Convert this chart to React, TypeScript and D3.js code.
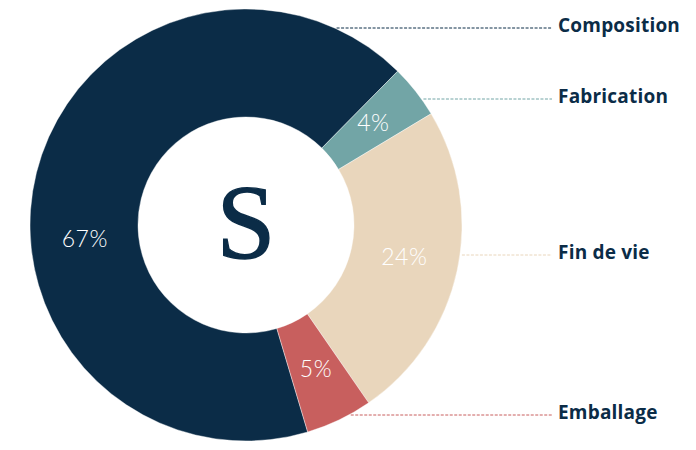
import { useEffect, useRef } from 'react';
import * as d3 from 'd3';

// values in %, in clockwise order starting at the Composition slice
const categories = ['Composition', 'Fabrication', 'Fin de vie', 'Emballage'];
const shares = [67, 4, 24, 5];
const colors = ['#0b2c47', '#72a5a6', '#e9d6bc', '#c85f5e'];

// layout: y row of each leader line, and an angle nudge (deg) for the % label
const leaderY = [28, 99, 255, 415];
const labelNudge = [-19.5, 0, 0, 0];

export default function App() {
  const ref = useRef<SVGSVGElement>(null);

  useEffect(() => {
    const svg = d3.select(ref.current);
    svg.selectAll('*').remove();

    const cx = 246, cy = 225;
    const outer = 216, inner = 108;
    const lineEnd = 552;

    const data = categories.map((name, i) => ({ name, value: shares[i], color: colors[i], ly: leaderY[i], nudge: labelNudge[i] }));
    type D = typeof data[number];

    const start = (44.6 - 360 * (shares[0] / 100)) * Math.PI / 180;
    const pie = d3.pie<D>().value(d => d.value).sort(null)
      .startAngle(start).endAngle(start + 2 * Math.PI);
    const arcs = pie(data);
    const arc = d3.arc<d3.PieArcDatum<D>>().innerRadius(inner).outerRadius(outer);

    const g = svg.append('g').attr('transform', `translate(${cx},${cy})`);

    g.selectAll('path.slice').data(arcs).enter().append('path')
      .attr('class', 'slice')
      .attr('d', arc)
      .attr('fill', d => d.data.color)
      .attr('stroke', '#fff').attr('stroke-width', 0.4);

    // percentage labels
    const mid = (inner + outer) / 2;
    const labelAngle = (d: d3.PieArcDatum<D>) => (d.startAngle + d.endAngle) / 2 + d.data.nudge * Math.PI / 180;
    g.selectAll('text.pct').data(arcs).enter().append('text')
      .attr('class', 'pct')
      .attr('x', d => mid * Math.sin(labelAngle(d)))
      .attr('y', d => -mid * Math.cos(labelAngle(d)) - 3)
      .attr('text-anchor', 'middle').attr('dominant-baseline', 'central')
      .attr('fill', '#fff').attr('font-family', 'Lato, sans-serif').attr('font-weight', 300)
      .attr('font-size', 23).attr('letter-spacing', 0.5)
      .text(d => `${d.data.value}%`);

    // leader lines and category names
    data.forEach(d => {
      const dy = d.ly - cy;
      const x0 = cx + Math.sqrt(outer * outer - dy * dy);
      svg.append('line')
        .attr('x1', x0 + 2).attr('x2', lineEnd)
        .attr('y1', d.ly).attr('y2', d.ly)
        .attr('stroke', d.color).attr('stroke-width', 1)
        .attr('stroke-dasharray', '3,1.5');
      svg.append('text')
        .attr('x', lineEnd + 6).attr('y', d.ly - 3)
        .attr('dominant-baseline', 'central')
        .attr('fill', '#0b2c47').attr('font-family', '"Open Sans", sans-serif').attr('font-weight', 700)
        .attr('font-size', 19).attr('letter-spacing', 0.2)
        .text(d.name);
    });

    // centre logo
    g.append('text')
      .attr('x', 0).attr('y', -3)
      .attr('text-anchor', 'middle').attr('dominant-baseline', 'central')
      .attr('fill', '#0b2c47').attr('stroke', '#0b2c47').attr('stroke-width', 1.4)
      .attr('font-family', '"Liberation Serif", serif')
      .attr('font-size', 106)
      .text('S');
  }, []);

  return (
    <svg ref={ref} width={696} height={450}
      style={{ position: 'absolute', left: 0, top: 0, background: '#fff' }} />
  );
}
